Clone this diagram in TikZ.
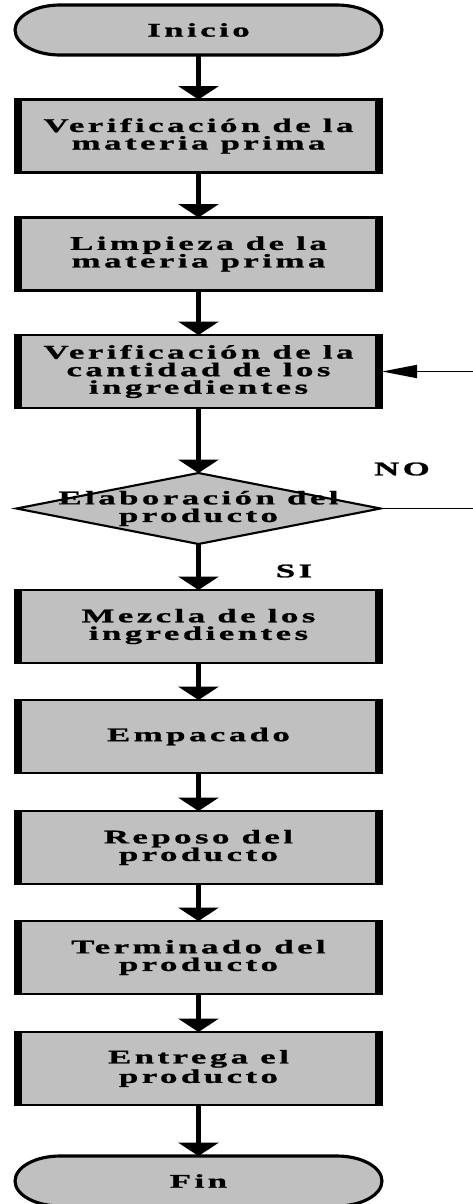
\documentclass[tikz,border=0pt]{standalone}
\usepackage{fontspec}
\newfontfamily\dfont{Liberation Serif Bold}[FakeStretch=1.8,LetterSpace=18,FakeBold=1.2]
\usetikzlibrary{arrows.meta,shapes.geometric}
\definecolor{boxgray}{HTML}{C0C0C0}
\tikzset{
  every node/.style={inner sep=0pt, outer sep=0pt},
  txt/.style={font=\dfont\fontsize{11}{10}\selectfont, align=center},
  procbox/.style={txt, rectangle, draw=black, fill=boxgray, line width=1.4pt,
     minimum width=7.34cm, minimum height=1.46cm},
  termbase/.style={txt, minimum width=7.34cm, minimum height=1.0cm},
  termshape/.style={draw=black, fill=boxgray, line width=1.8pt},
  dia/.style={diamond, draw=black, fill=boxgray, line width=1.2pt,
     minimum width=7.28cm, minimum height=1.42cm, aspect=5},
  flow/.style={line width=3.4pt, -{Triangle[width=22.7pt,length=7.6pt]}},
  back/.style={line width=1.1pt, -{Triangle[width=7.4pt,length=20pt]}},
  thinline/.style={line width=1.1pt},
  sidebar/.style={line width=4pt},
  lbl/.style={txt}
}
\begin{document}
\begin{tikzpicture}[x=0.02cm,y=-0.02cm]
\useasboundingbox (0,0) rectangle (473,1204);
% terminal shapes
\node[termbase] (ini) at (198.5,30) {};
\draw[termshape] ([xshift=0.9cm]ini.north west) -- ([xshift=-0.9cm]ini.north east)
  arc[start angle=90,end angle=-90,x radius=0.9cm,y radius=0.5cm]
  -- ([xshift=0.9cm]ini.south west)
  arc[start angle=270,end angle=90,x radius=0.9cm,y radius=0.5cm] -- cycle;
\node[txt] (initxt) at (ini.center) {Inicio};

\node[termbase] (fin) at (198.5,1181) {};
\draw[termshape] ([xshift=0.9cm]fin.north west) -- ([xshift=-0.9cm]fin.north east)
  arc[start angle=90,end angle=-90,x radius=0.9cm,y radius=0.5cm]
  -- ([xshift=0.9cm]fin.south west)
  arc[start angle=270,end angle=90,x radius=0.9cm,y radius=0.5cm] -- cycle;
\node[txt] (fintxt) at (fin.center) {Fin};

% process boxes
\node[procbox] (b1) at (198.5,136) {Verificación de la\\materia prima};
\node[procbox] (b2) at (198.5,254) {Limpieza de la\\materia prima};
\node[procbox] (b3) at (198.5,371.5) {Verificación de la\\cantidad de los\\ingredientes};
\node[dia] (d) at (198.5,508.5) {};
\node[txt] (dtxt) at (198.5,508.5) {Elaboración del\\producto};
\node[procbox] (b4) at (198.5,626.5) {Mezcla de los\\ingredientes};
\node[procbox] (b5) at (198.5,736.5) {Empacado};
\node[procbox] (b6) at (198.5,847.5) {Reposo del\\producto};
\node[procbox] (b7) at (198.5,957.5) {Terminado del\\producto};
\node[procbox] (b8) at (198.5,1068.5) {Entrega el\\producto};

% thick side borders
\foreach \n in {b1,b2,b3,b4,b5,b6,b7,b8}{
  \draw[sidebar] ([xshift=2pt]\n.north west) -- ([xshift=2pt]\n.south west);
  \draw[sidebar] ([xshift=-2pt]\n.north east) -- ([xshift=-2pt]\n.south east);
}

% labels
\node[lbl] (no) at (402,469) {NO};
\node[lbl] (si) at (294,571) {SI};

% connectors
\draw[flow] (ini) -- (b1);
\draw[flow] (b1) -- (b2);
\draw[flow] (b2) -- (b3);
\draw[flow] (b3) -- (d);
\draw[flow] (d) -- (b4);
\draw[flow] (b4) -- (b5);
\draw[flow] (b5) -- (b6);
\draw[flow] (b6) -- (b7);
\draw[flow] (b7) -- (b8);
\draw[flow] (b8) -- (fin);

\coordinate (r1) at (473,371.5);
\coordinate (r2) at (473,508.5);
\draw[thinline] (d.east) -- (r2);
\draw[back] (r1) -- (b3.east);
\end{tikzpicture}
\end{document}
